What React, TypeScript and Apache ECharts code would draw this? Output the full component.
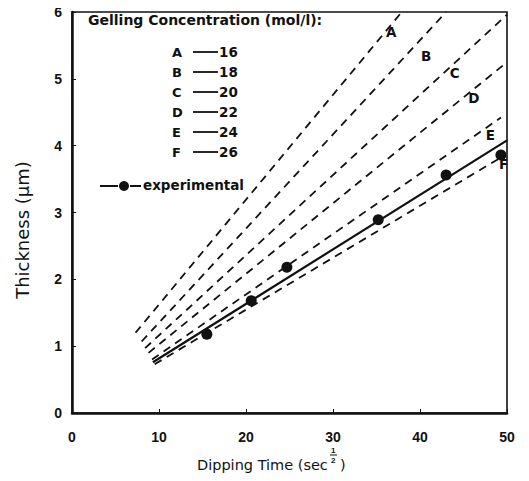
import React, { useEffect, useRef } from "react";
import * as echarts from "echarts";

// ---- data ----
const curveNames = ["A", "B", "C", "D", "E", "F"];
const concentrations = ["16", "18", "20", "22", "24", "26"];
// each dashed model curve: start and end point [x, y]
const curveStarts: number[][] = [
  [7.3, 1.2],
  [8.0, 1.07],
  [8.4, 0.97],
  [8.8, 0.9],
  [9.2, 0.8],
  [9.5, 0.73],
];
const curveEnds: number[][] = [
  [37.9, 6.0],
  [43.0, 6.0],
  [50.0, 5.96],
  [50.0, 5.25],
  [49.3, 4.42],
  [49.0, 3.8],
];
const curveLabelPos: number[][] = [
  [36.7, 5.7],
  [40.7, 5.34],
  [44.0, 5.08],
  [46.2, 4.72],
  [48.1, 4.16],
  [49.6, 3.72],
];
const experimentalX = [15.5, 20.6, 24.7, 35.2, 43.0, 49.3];
const experimentalY = [1.18, 1.68, 2.18, 2.89, 3.56, 3.86];
const fitLine: number[][] = [
  [9.3, 0.76],
  [50.0, 4.08],
];
const xTicks = [0, 10, 20, 30, 40, 50];
const yTicks = [0, 1, 2, 3, 4, 5, 6];

const FONT = "Liberation Sans, Arial, sans-serif";
const WFONT = "DejaVu Sans, sans-serif";

export default function App() {
  const ref = useRef<HTMLDivElement>(null);
  useEffect(() => {
    if (!ref.current) return;
    const chart = echarts.init(ref.current, undefined, { renderer: "svg" });

    const dashed = curveNames.map((n, i) => ({
      name: n,
      type: "line",
      data: [curveStarts[i], curveEnds[i]],
      symbol: "none",
      silent: true,
      lineStyle: { color: "#111", width: 1.8, type: [8, 6] },
      z: 2,
    }));

    const legendGraphics: any[] = [
      {
        type: "text",
        x: 88,
        y: 20,
        style: {
          text: "Gelling Concentration (mol/l):",
          font: `bold 14px ${WFONT}`,
          fill: "#111",
          verticalAlign: "middle",
        },
      },
    ];
    curveNames.forEach((n, i) => {
      const cy = 52 + i * 20;
      legendGraphics.push({
        type: "text",
        x: 172,
        y: cy,
        style: {
          text: n,
          font: `bold 13px ${WFONT}`,
          fill: "#111",
          verticalAlign: "middle",
        },
      });
      legendGraphics.push({
        type: "line",
        shape: { x1: 193, y1: cy, x2: 218, y2: cy },
        style: { stroke: "#111", lineWidth: 1.8 },
      });
      legendGraphics.push({
        type: "text",
        x: 219,
        y: cy,
        style: {
          text: concentrations[i],
          font: `bold 13.5px ${WFONT}`,
          fill: "#111",
          verticalAlign: "middle",
        },
      });
    });
    legendGraphics.push(
      {
        type: "line",
        shape: { x1: 100, y1: 186, x2: 118, y2: 186 },
        style: { stroke: "#111", lineWidth: 2 },
      },
      {
        type: "circle",
        shape: { cx: 124, cy: 186, r: 5 },
        style: { fill: "#111" },
      },
      {
        type: "line",
        shape: { x1: 130, y1: 186, x2: 141, y2: 186 },
        style: { stroke: "#111", lineWidth: 2 },
      },
      {
        type: "text",
        x: 143,
        y: 185,
        style: {
          text: "experimental",
          font: `bold 13.5px ${WFONT}`,
          fill: "#111",
          verticalAlign: "middle",
        },
      },
      {
        type: "text",
        x: 22,
        y: 230,
        rotation: Math.PI / 2,
        style: {
          text: "Thickness (μm)",
          font: `18px ${WFONT}`,
          fill: "#111",
          align: "center",
          verticalAlign: "middle",
        },
      },
      {
        type: "text",
        x: 197,
        y: 465,
        style: {
          text: "Dipping Time (sec",
          font: `14.5px ${WFONT}`,
          fill: "#111",
          verticalAlign: "middle",
        },
      },
      {
        type: "text",
        x: 331,
        y: 450,
        style: {
          text: "1",
          font: `bold 8px ${FONT}`,
          fill: "#111",
          verticalAlign: "middle",
        },
      },
      {
        type: "line",
        shape: { x1: 330, y1: 455, x2: 337, y2: 455 },
        style: { stroke: "#111", lineWidth: 1 },
      },
      {
        type: "text",
        x: 331,
        y: 460,
        style: {
          text: "2",
          font: `bold 8px ${FONT}`,
          fill: "#111",
          verticalAlign: "middle",
        },
      },
      {
        type: "text",
        x: 340,
        y: 465,
        style: {
          text: ")",
          font: `14.5px ${WFONT}`,
          fill: "#111",
          verticalAlign: "middle",
        },
      }
    );

    chart.setOption({
      animation: false,
      backgroundColor: "#fff",
      grid: {
        left: 72,
        right: 22,
        top: 12,
        bottom: 68,
        show: true,
        borderColor: "#111",
        borderWidth: 1.6,
        backgroundColor: "transparent",
      },
      xAxis: {
        type: "value",
        min: xTicks[0],
        max: xTicks[xTicks.length - 1],
        interval: 10,
        axisLine: { show: true, lineStyle: { color: "#111", width: 2.5 } },
        axisTick: { show: true, inside: true, length: 4, lineStyle: { color: "#111", width: 1 } },
        splitLine: { show: false },
        axisLabel: {
          color: "#111",
          fontSize: 14,
          fontWeight: "bold",
          fontFamily: FONT,
          margin: 17,
        },
      },
      yAxis: {
        type: "value",
        min: yTicks[0],
        max: yTicks[yTicks.length - 1],
        interval: 1,
        axisLine: { show: true, lineStyle: { color: "#111", width: 2.5 } },
        axisTick: { show: true, inside: true, length: 4, lineStyle: { color: "#111", width: 1 } },
        splitLine: { show: false },
        axisLabel: {
          color: "#111",
          fontSize: 14,
          fontWeight: "bold",
          fontFamily: FONT,
          margin: 10,
        },
      },
      series: [
        ...dashed,
        {
          name: "fit",
          type: "line",
          data: fitLine,
          symbol: "none",
          silent: true,
          lineStyle: { color: "#111", width: 2.2 },
          z: 3,
        },
        {
          name: "experimental",
          type: "scatter",
          data: experimentalX.map((x, i) => [x, experimentalY[i]]),
          symbol: "circle",
          symbolSize: 11,
          itemStyle: { color: "#111", opacity: 1 },
          z: 4,
        },
      ],
      graphic: legendGraphics,
    });

    // curve letter labels, placed through the chart's own coordinate system
    const labelGraphics = curveLabelPos.map((p, i) => {
      const [px, py] = chart.convertToPixel({ gridIndex: 0 }, p) as number[];
      return {
        type: "text",
        x: px,
        y: py,
        z: 100,
        style: {
          text: curveNames[i],
          font: `bold 13.5px ${WFONT}`,
          fill: "#111",
          align: "center",
          verticalAlign: "middle",
        },
      };
    });
    chart.setOption({ graphic: [...legendGraphics, ...labelGraphics] });

    return () => chart.dispose();
  }, []);

  return <div ref={ref} style={{ width: 529, height: 481, marginLeft: -8, marginTop: -8 }} />;
}
